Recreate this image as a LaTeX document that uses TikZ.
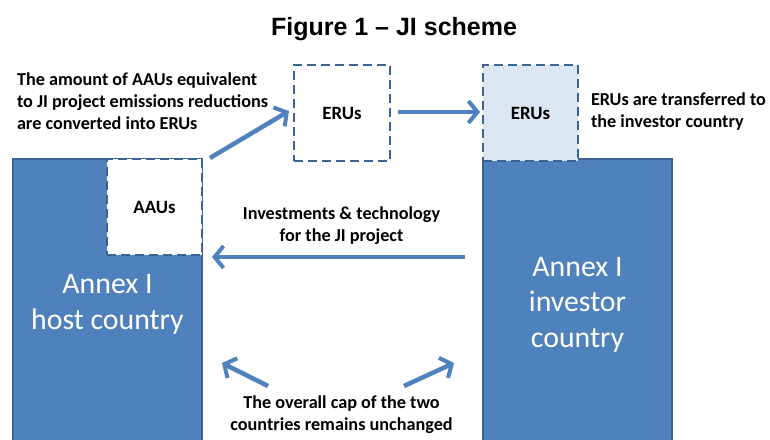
\documentclass[tikz,border=0pt]{standalone}
\usepackage{fontspec}
\setmainfont{Carlito}
\newfontfamily\titlefont{Liberation Sans}
\usetikzlibrary{arrows.meta}
\definecolor{fillblue}{HTML}{4F81BD}
\definecolor{edgeblue}{HTML}{3B6496}
\definecolor{lightblue}{HTML}{DCE6F2}
\tikzset{
  country/.style={draw=edgeblue, line width=2pt, fill=fillblue, inner sep=0pt, outer sep=0pt},
  countrytext/.style={text=white, align=center, inner sep=0pt, font=\fontsize{29.8}{35.5}\selectfont},
  unitbox/.style={draw=edgeblue, line width=2.6pt, dash pattern=on 9pt off 5pt, fill=white,
    inner sep=0pt, outer sep=0pt, font=\fontsize{18.8}{22}\selectfont\bfseries},
  note/.style={inner sep=0pt, outer sep=0pt, font=\fontsize{18.2}{21.8}\selectfont\bfseries},
  flow/.style={draw=fillblue, line width=4.5pt, -{Straight Barb[length=9pt, width=22pt, line width=4pt]}},
}
\begin{document}
\begin{tikzpicture}[x=1pt,y=-1pt]
\useasboundingbox (0,0) rectangle (770,439);
\node[anchor=base, inner sep=0pt, font=\titlefont\fontsize{25}{30}\selectfont\bfseries] (title) at (394,35) {Figure 1 – JI scheme};
% countries
\node[country, minimum width=189pt, minimum height=286pt] (host) at (107.5,302) {};
\node[countrytext, anchor=base] (hostlbl) at (107.5,329) {Annex I\\host country};
\node[country, minimum width=189pt, minimum height=286pt] (inv) at (577.5,302) {};
\node[countrytext, anchor=base] (invlbl) at (577.5,347) {Annex I\\investor\\country};
% unit boxes
\node[unitbox, minimum width=95pt, minimum height=96pt] (aau) at (154.5,207) {AAUs};
\node[unitbox, minimum width=96pt, minimum height=96pt] (eru1) at (342,113) {ERUs};
\node[unitbox, fill=lightblue, minimum width=95pt, minimum height=96pt] (eru2) at (530.5,113) {ERUs};
% notes
\node[note, align=left, anchor=base west] (n1) at (17,129) {The amount of AAUs equivalent\\to JI project emissions reductions\\are converted into ERUs};
\node[note, align=left, anchor=base west] (n2) at (591,127) {ERUs are transferred to\\the investor country};
\node[note, align=center, anchor=base] (n3) at (341.5,241) {Investments \& technology\\for the JI project};
\node[note, align=center, anchor=base] (n4) at (341.5,430) {The overall cap of the two\\countries remains unchanged};
% arrow endpoints
\coordinate (a1s) at (210,158);
\coordinate (a1e) at (289,111);
\coordinate (a2s) at (398,112);
\coordinate (a2e) at (480,112);
\coordinate (a3s) at (465,257);
\coordinate (a3e) at (212,257);
\coordinate (a4s) at (268,386);
\coordinate (a4e) at (222,363);
\coordinate (a5s) at (404,386);
\coordinate (a5e) at (454,363);
\draw[flow] (a1s) -- (a1e);
\draw[flow] (a2s) -- (a2e);
\draw[flow] (a3s) -- (a3e);
\draw[flow] (a4s) -- (a4e);
\draw[flow] (a5s) -- (a5e);
\end{tikzpicture}
\end{document}
